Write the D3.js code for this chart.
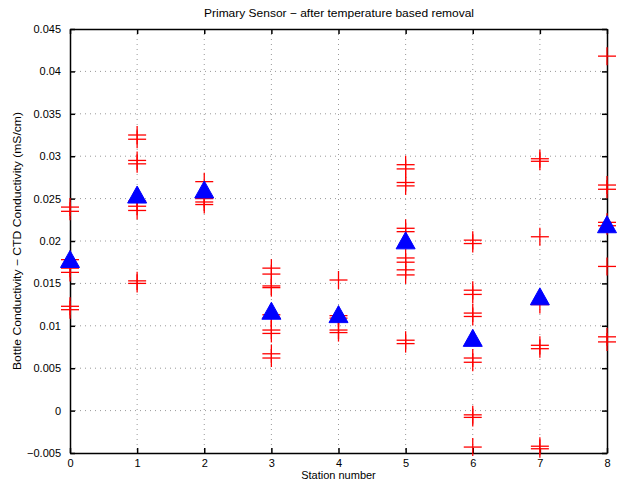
<!DOCTYPE html>
<html>
<head>
<meta charset="utf-8">
<script src="https://cdn.jsdelivr.net/npm/d3@7"></script>
<style>
  body { margin: 0; background: #fff; }
  text { font-family: "Liberation Sans", Arial, sans-serif; }
</style>
</head>
<body>
<div id="chart"></div>
<script>
// stations along x
var stations = [0, 1, 2, 3, 4, 5, 6, 7, 8];

// bottle - CTD differences per station (red +)
var diffs = [
  [0.0240, 0.0235, 0.0178, 0.0168, 0.0163, 0.0123, 0.0119],
  [0.0325, 0.0320, 0.0295, 0.0291, 0.0247, 0.0241, 0.0236, 0.0153, 0.0150],
  [0.0270, 0.0250, 0.0246, 0.0243],
  [0.0168, 0.0161, 0.0147, 0.0145, 0.0113, 0.0109, 0.0095, 0.0091, 0.0067, 0.0062],
  [0.0154, 0.0112, 0.0109, 0.0095, 0.0092],
  [0.0290, 0.0285, 0.0269, 0.0265, 0.0215, 0.0211, 0.0180, 0.0175, 0.0166, 0.0160, 0.0083, 0.0079],
  [0.0201, 0.0197, 0.0142, 0.0137, 0.0115, 0.0111, 0.0062, 0.0057, -0.0005, -0.0008, -0.0043],
  [0.0297, 0.0294, 0.0205, 0.0125, 0.0077, 0.0073, -0.0042, -0.0045],
  [0.0418, 0.0266, 0.0261, 0.0222, 0.0218, 0.0170, 0.0087, 0.0081]
];

// station means (blue triangles)
var means = [0.0177, 0.0253, 0.0259, 0.0116, 0.0112, 0.0199, 0.0084, 0.0133, 0.0218];

var xTicks = [0, 1, 2, 3, 4, 5, 6, 7, 8];
var yTicks = [-0.005, 0, 0.005, 0.01, 0.015, 0.02, 0.025, 0.03, 0.035, 0.04, 0.045];

var width = 626, height = 484;
var margin = { top: 29, right: 19, bottom: 31, left: 70 };
var w = width - margin.left - margin.right,
    h = height - margin.top - margin.bottom;

var svg = d3.select("#chart").append("svg")
  .attr("width", width)
  .attr("height", height);

var g = svg.append("g")
  .attr("transform", "translate(" + margin.left + "," + margin.top + ")");

var x = d3.scaleLinear().domain([0, 8]).range([0, w]);
var y = d3.scaleLinear().domain([-0.005, 0.045]).range([h, 0]);

function fmt(d) {
  if (d === 0) return "0";
  return (d < 0 ? "\u2212" : "") + String(Math.abs(+d.toFixed(3)));
}

// grid lines (dotted)
g.append("g").selectAll("line.gx")
  .data(xTicks.slice(1, -1))
  .enter().append("line")
  .attr("x1", function (d) { return x(d); })
  .attr("x2", function (d) { return x(d); })
  .attr("y1", 0).attr("y2", h)
  .attr("stroke", "#999").attr("stroke-width", 1)
  .attr("stroke-dasharray", "1,4");

g.append("g").selectAll("line.gy")
  .data(yTicks.slice(1, -1))
  .enter().append("line")
  .attr("y1", function (d) { return y(d); })
  .attr("y2", function (d) { return y(d); })
  .attr("x1", 0).attr("x2", w)
  .attr("stroke", "#999").attr("stroke-width", 1)
  .attr("stroke-dasharray", "1,4");

// axes, ticks pointing inward
var xAxis = d3.axisBottom(x).tickValues(xTicks).tickSizeInner(-5).tickSizeOuter(0).tickPadding(9).tickFormat(d3.format("d"));
var yAxis = d3.axisLeft(y).tickValues(yTicks).tickSizeInner(-5).tickSizeOuter(0).tickPadding(9).tickFormat(fmt);
var xTop = d3.axisTop(x).tickValues(xTicks).tickSizeInner(-5).tickSizeOuter(0).tickFormat("");
var yRight = d3.axisRight(y).tickValues(yTicks).tickSizeInner(-5).tickSizeOuter(0).tickFormat("");

function styleAxis(sel) {
  sel.selectAll("path").attr("stroke", "#000").attr("stroke-width", 1.5);
  sel.selectAll("line").attr("stroke", "#000").attr("stroke-width", 1.5);
  sel.selectAll("text").attr("font-size", "11px").attr("fill", "#000")
    .style("font-family", "'Liberation Sans', Arial, sans-serif");
}

g.append("g").attr("transform", "translate(0," + h + ")").call(xAxis).call(styleAxis)
  .selectAll("text").attr("dy", "0.45em");
g.append("g").call(yAxis).call(styleAxis);
g.append("g").call(xTop).call(styleAxis);
g.append("g").attr("transform", "translate(" + w + ",0)").call(yRight).call(styleAxis);

// red plus markers
var pts = [];
diffs.forEach(function (arr, i) {
  arr.forEach(function (v) { pts.push({ s: stations[i], v: v }); });
});

var pg = g.append("g");
pts.forEach(function (d) {
  var cx = x(d.s), cy = y(d.v);
  pg.append("line")
    .attr("x1", cx - 9).attr("x2", cx + 9)
    .attr("y1", cy).attr("y2", cy)
    .attr("stroke", "#ff0000").attr("stroke-width", 1.3);
  pg.append("line")
    .attr("x1", cx).attr("x2", cx)
    .attr("y1", cy - 9).attr("y2", cy + 9)
    .attr("stroke", "#ff0000").attr("stroke-width", 1.3);
});

// blue triangles
g.append("g").selectAll("path.tri")
  .data(means)
  .enter().append("path")
  .attr("d", function (d, i) {
    var cx = x(stations[i]), cy = y(d);
    return "M" + cx + "," + (cy - 10) + "L" + (cx + 9.5) + "," + (cy + 7) + "L" + (cx - 9.5) + "," + (cy + 7) + "Z";
  })
  .attr("fill", "#0000ff")
  .attr("stroke", "#0000ff")
  .attr("stroke-width", 1);

// labels
svg.append("text")
  .attr("x", 339).attr("y", 17)
  .attr("text-anchor", "middle").attr("font-size", "11.5px")
  .attr("textLength", 270).attr("lengthAdjust", "spacingAndGlyphs")
  .text("Primary Sensor \u2212 after temperature based removal");

svg.append("text")
  .attr("x", margin.left + w / 2).attr("y", 479)
  .attr("text-anchor", "middle").attr("font-size", "11px")
  .text("Station number");

svg.append("text")
  .attr("transform", "translate(21," + (margin.top + h / 2) + ") rotate(-90)")
  .attr("text-anchor", "middle").attr("font-size", "11px")
  .attr("textLength", 258).attr("lengthAdjust", "spacingAndGlyphs")
  .text("Bottle Conductivity  \u2212 CTD Conductivity (mS/cm)");
</script>
</body>
</html>
